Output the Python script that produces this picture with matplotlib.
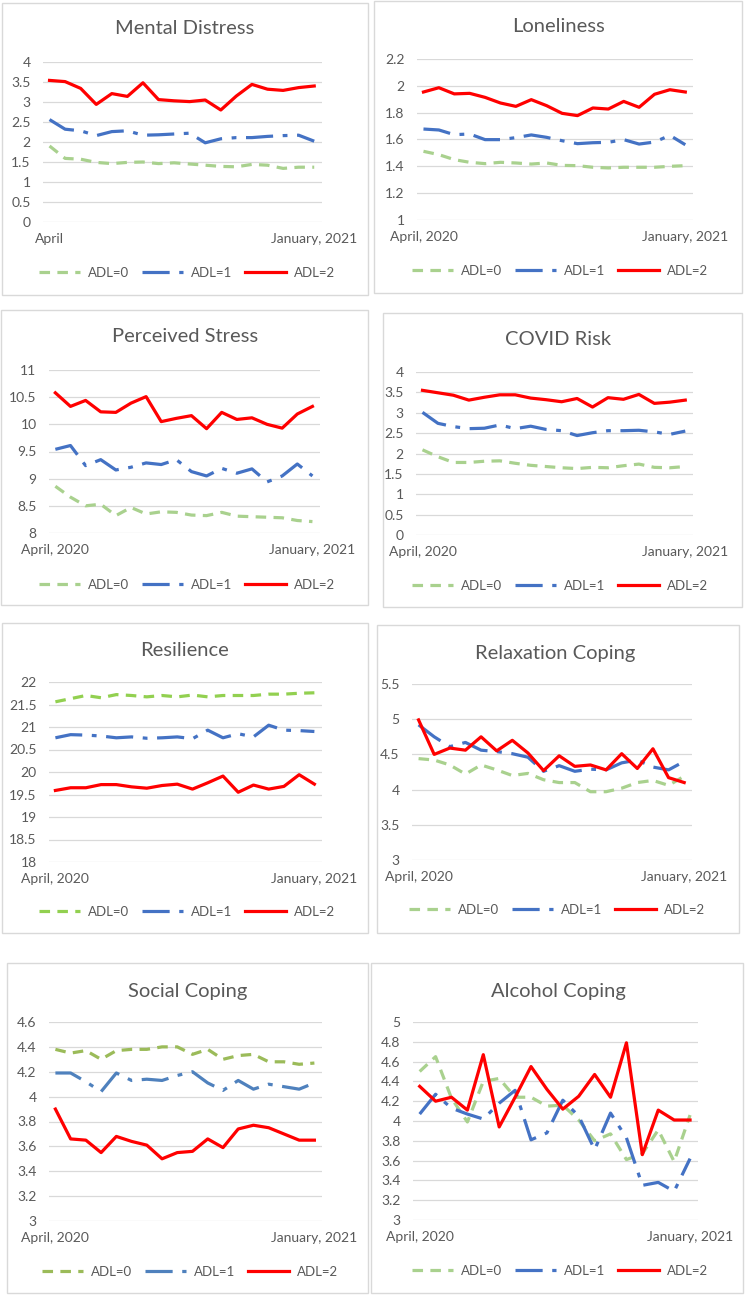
import matplotlib
matplotlib.use("Agg")
import matplotlib.pyplot as plt
from matplotlib.patches import Rectangle
from matplotlib.ticker import FormatStrFormatter

plt.rcParams['font.family'] = ['Lato', 'DejaVu Sans']

# 18 survey waves, April 2020 .. January 2021
n_waves = 18
series_names = ['ADL=0', 'ADL=1', 'ADL=2']

mental_adl0 = [1.90, 1.59, 1.57, 1.49, 1.46, 1.49, 1.50, 1.46, 1.48, 1.45, 1.42, 1.39, 1.38, 1.44, 1.42, 1.34, 1.37, 1.37]
mental_adl1 = [2.56, 2.32, 2.28, 2.16, 2.26, 2.28, 2.17, 2.18, 2.20, 2.22, 1.98, 2.08, 2.11, 2.11, 2.14, 2.16, 2.17, 2.02]
mental_adl2 = [3.54, 3.51, 3.34, 2.94, 3.21, 3.14, 3.48, 3.06, 3.03, 3.01, 3.05, 2.80, 3.15, 3.44, 3.32, 3.29, 3.36, 3.40]

lonely_adl0 = [1.512, 1.487, 1.45, 1.43, 1.42, 1.43, 1.425, 1.417, 1.425, 1.407, 1.405, 1.393, 1.388, 1.393, 1.393, 1.393, 1.40, 1.405]
lonely_adl1 = [1.678, 1.671, 1.636, 1.641, 1.599, 1.599, 1.614, 1.634, 1.616, 1.591, 1.569, 1.576, 1.579, 1.599, 1.566, 1.581, 1.631, 1.561]
lonely_adl2 = [1.954, 1.986, 1.94, 1.944, 1.914, 1.872, 1.847, 1.897, 1.852, 1.795, 1.778, 1.835, 1.827, 1.884, 1.84, 1.937, 1.971, 1.954]

stress_adl0 = [8.86, 8.66, 8.50, 8.53, 8.32, 8.47, 8.35, 8.39, 8.38, 8.33, 8.32, 8.38, 8.31, 8.30, 8.29, 8.28, 8.23, 8.21]
stress_adl1 = [9.54, 9.61, 9.24, 9.35, 9.16, 9.21, 9.29, 9.26, 9.35, 9.13, 9.05, 9.19, 9.10, 9.18, 8.94, 9.05, 9.27, 9.05]
stress_adl2 = [10.58, 10.33, 10.44, 10.23, 10.22, 10.39, 10.51, 10.05, 10.11, 10.16, 9.92, 10.22, 10.09, 10.12, 10.0, 9.93, 10.19, 10.33]

covid_adl0 = [2.09, 1.92, 1.78, 1.78, 1.81, 1.82, 1.76, 1.71, 1.68, 1.65, 1.63, 1.66, 1.65, 1.70, 1.74, 1.66, 1.65, 1.68]
covid_adl1 = [3.01, 2.74, 2.66, 2.61, 2.62, 2.70, 2.61, 2.67, 2.59, 2.56, 2.44, 2.51, 2.56, 2.56, 2.57, 2.53, 2.47, 2.55]
covid_adl2 = [3.55, 3.49, 3.43, 3.31, 3.38, 3.44, 3.44, 3.36, 3.32, 3.27, 3.35, 3.14, 3.37, 3.33, 3.45, 3.23, 3.26, 3.31]

resil_adl0 = [21.56, 21.63, 21.70, 21.65, 21.72, 21.70, 21.67, 21.70, 21.67, 21.71, 21.67, 21.70, 21.70, 21.70, 21.73, 21.73, 21.75, 21.76]
resil_adl1 = [20.76, 20.83, 20.82, 20.80, 20.76, 20.78, 20.75, 20.76, 20.78, 20.74, 20.93, 20.76, 20.85, 20.78, 21.04, 20.93, 20.92, 20.90]
resil_adl2 = [19.59, 19.65, 19.65, 19.72, 19.72, 19.67, 19.64, 19.70, 19.73, 19.62, 19.76, 19.91, 19.55, 19.71, 19.62, 19.68, 19.94, 19.73]

relax_adl0 = [4.44, 4.42, 4.35, 4.22, 4.35, 4.28, 4.20, 4.23, 4.14, 4.10, 4.10, 3.97, 3.97, 4.02, 4.10, 4.13, 4.06, 4.19]
relax_adl1 = [4.92, 4.75, 4.61, 4.67, 4.56, 4.54, 4.51, 4.46, 4.26, 4.34, 4.26, 4.29, 4.28, 4.38, 4.42, 4.32, 4.28, 4.40]
relax_adl2 = [4.99, 4.50, 4.59, 4.56, 4.75, 4.55, 4.70, 4.52, 4.27, 4.48, 4.33, 4.35, 4.28, 4.51, 4.30, 4.58, 4.17, 4.10]

social_adl0 = [4.38, 4.35, 4.37, 4.30, 4.37, 4.38, 4.38, 4.40, 4.40, 4.34, 4.38, 4.30, 4.33, 4.34, 4.28, 4.28, 4.26, 4.27]
social_adl1 = [4.19, 4.19, 4.12, 4.04, 4.19, 4.13, 4.14, 4.13, 4.17, 4.20, 4.11, 4.05, 4.13, 4.06, 4.10, 4.08, 4.06, 4.11]
social_adl2 = [3.90, 3.66, 3.65, 3.55, 3.68, 3.64, 3.61, 3.50, 3.55, 3.56, 3.66, 3.59, 3.74, 3.77, 3.75, 3.70, 3.65, 3.65]

alcohol_adl0 = [4.50, 4.65, 4.23, 3.99, 4.40, 4.43, 4.24, 4.24, 4.15, 4.16, 4.01, 3.80, 3.87, 3.61, 3.67, 3.91, 3.59, 4.06]
alcohol_adl1 = [4.07, 4.27, 4.13, 4.07, 4.02, 4.18, 4.31, 3.81, 3.88, 4.21, 4.05, 3.71, 4.08, 3.83, 3.35, 3.38, 3.29, 3.62]
alcohol_adl2 = [4.35, 4.20, 4.24, 4.11, 4.67, 3.94, 4.24, 4.55, 4.32, 4.12, 4.25, 4.47, 4.24, 4.79, 3.66, 4.11, 4.01, 4.01]

W, H = 747, 1295
fig = plt.figure(figsize=(W / 100, H / 100), dpi=100)
text_color = '#595959'


def fx(x):
    return x / W


def fy(y):
    return 1 - y / H


def panel(title, data, colors, box, area, ylim, ystep, first_label, title_xy, legend_y, fmt='%g'):
    x0, y0, x1, y1 = box
    fig.add_artist(Rectangle((fx(x0), fy(y1)), fx(x1) - fx(x0), fy(y0) - fy(y1),
                             transform=fig.transFigure, fill=False, ec='#D9D9D9', lw=1.0))
    l, r, t, b = area
    ax = fig.add_axes([fx(l), fy(b), fx(r) - fx(l), fy(t) - fy(b)])
    xs = list(range(n_waves))
    styles = [dict(dashes=(3.3, 2.3)), dict(dashes=(8.5, 3, 1.5, 3)), dict(linestyle='-')]
    handles = []
    for vals, c, st in zip(data, colors, styles):
        ln, = ax.plot(xs, vals, color=c, lw=2.3, **st)
        handles.append(ln)
    ax.set_xlim(-0.42, n_waves - 0.5)
    ax.set_ylim(*ylim)
    ticks = []
    v = ylim[0]
    while v <= ylim[1] + 1e-9:
        ticks.append(round(v, 3))
        v += ystep
    ax.set_yticks(ticks)
    ax.yaxis.set_major_formatter(FormatStrFormatter(fmt))
    ax.set_xticks([0, n_waves - 1], [first_label, 'January, 2021'])
    ax.tick_params(length=0, colors=text_color, labelsize=10)
    ax.tick_params(axis='y', pad=9)
    ax.tick_params(axis='x', pad=8)
    ax.grid(axis='y', color='#D9D9D9', lw=0.9)
    ax.set_axisbelow(True)
    for s in ax.spines.values():
        s.set_visible(False)
    ax.patch.set_visible(False)
    fig.text(fx(title_xy[0]), fy(title_xy[1]), title, ha='center', va='center',
             fontsize=14.5, color=text_color)
    fig.legend(handles, series_names, loc='center', ncol=3, frameon=False,
               bbox_to_anchor=(fx(title_xy[0] + 2), fy(legend_y)),
               fontsize=9.5, labelcolor=text_color, handlelength=3.1,
               handletextpad=0.6, columnspacing=1.0)
    return ax


green = '#A9D18E'
blue = '#4472C4'
red = '#FF0000'

panel('Mental Distress', [mental_adl0, mental_adl1, mental_adl2], [green, blue, red],
      (2, 3, 368, 295), (43, 322, 62, 222), (0, 4), 0.5, 'April', (185, 29), 273)
panel('Loneliness', [lonely_adl0, lonely_adl1, lonely_adl2], [green, blue, red],
      (374, 1, 742, 293), (417, 693, 59, 220), (1, 2.2), 0.2, 'April, 2020', (558, 27), 271)
panel('Perceived Stress', [stress_adl0, stress_adl1, stress_adl2], [green, blue, red],
      (1, 310, 368, 605), (49, 320, 370, 533), (8, 11), 0.5, 'April, 2020', (185, 337), 585)
panel('COVID Risk', [covid_adl0, covid_adl1, covid_adl2], [green, blue, red],
      (383, 313, 742, 607), (416, 693, 372, 535), (0, 4), 0.5, 'April, 2020', (558, 339), 586)
panel('Resilience', [resil_adl0, resil_adl1, resil_adl2], ['#92D050', blue, red],
      (2, 623, 368, 933), (49, 322, 682, 862), (18, 22), 0.5, 'April, 2020', (185, 650), 912)
panel('Relaxation Coping', [relax_adl0, relax_adl1, relax_adl2], [green, blue, red],
      (377, 625, 739, 933), (412, 692, 684, 860), (3, 5.5), 0.5, 'April, 2020', (555, 653), 910)
panel('Social Coping', [social_adl0, social_adl1, social_adl2], ['#9BBB59', '#4F81BD', red],
      (7, 963, 368, 1293), (49, 322, 1022, 1221), (3, 4.6), 0.2, 'April, 2020', (188, 991), 1272)
panel('Alcohol Coping', [alcohol_adl0, alcohol_adl1, alcohol_adl2], [green, blue, red],
      (371, 963, 743, 1293), (413, 698, 1022, 1220), (3, 5), 0.2, 'April, 2020', (558, 991), 1271)

fig.savefig('out.png', dpi=100, facecolor='white')
